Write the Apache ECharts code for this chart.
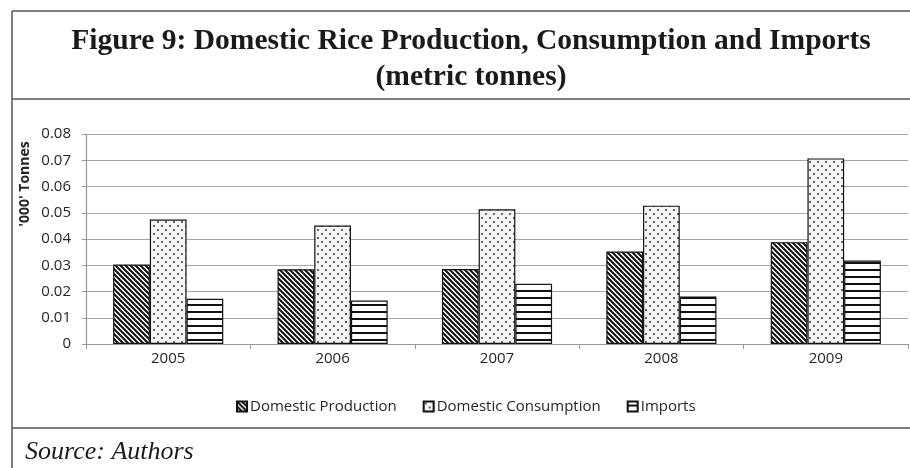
<!DOCTYPE html>
<html><head><meta charset="utf-8">
<script src="https://cdn.jsdelivr.net/npm/echarts@6/dist/echarts.min.js"></script>
<style>html,body{margin:0;padding:0;background:#fff}#c{width:910px;height:468px}</style>
</head><body><div id="c"></div>
<script>
const categories = ['2005','2006','2007','2008','2009'];
const production = [0.0303, 0.0285, 0.0286, 0.0352, 0.0388];
const consumption = [0.0474, 0.0451, 0.0513, 0.0527, 0.0707];
const imports = [0.0172, 0.0166, 0.0230, 0.0181, 0.0318];
const yTicks = [0, 0.01, 0.02, 0.03, 0.04, 0.05, 0.06, 0.07, 0.08];
const titleLine1 = 'Figure 9: Domestic Rice Production, Consumption and Imports';
const titleLine2 = '(metric tonnes)';
const sourceText = 'Source: Authors';

function fitSize(text, weight, family, target){
  const c = document.createElement('canvas').getContext('2d');
  c.font = weight + ' 100px ' + family;
  return 100 * target / c.measureText(text).width;
}
const titleSize = Math.min(30, fitSize(titleLine1, 'bold', '"Liberation Serif"', 800));
const sourceSize = Math.min(26, fitSize(sourceText, 'italic', '"Liberation Serif"', 170));

function pat(kind){
  const c = document.createElement('canvas');
  const x = c.getContext('2d');
  if(kind==='diag'){
    const s=5; c.width=s; c.height=s;
    x.fillStyle='#fff'; x.fillRect(0,0,s,s);
    x.strokeStyle='#111'; x.lineWidth=2.0;
    x.beginPath();
    for(let k=-1;k<=1;k++){ x.moveTo(k*s-1,-1); x.lineTo(k*s+s+1,s+1); }
    x.stroke();
  } else if(kind==='dots'){
    const s=8; c.width=s; c.height=s;
    x.fillStyle='#f6f6f6'; x.fillRect(0,0,s,s);
    x.fillStyle='#222';
    x.beginPath(); x.arc(2,2,0.9,0,Math.PI*2); x.fill();
    x.beginPath(); x.arc(6,6,0.9,0,Math.PI*2); x.fill();
  } else {
    c.width=6; c.height=7;
    x.fillStyle='#fff'; x.fillRect(0,0,6,7);
    x.fillStyle='#111'; x.fillRect(0,3,6,2);
  }
  return {image:c, repeat:'repeat'};
}

const chart = echarts.init(document.getElementById('c'), null, {renderer:'canvas'});
const txt = '#262626';
const font = 'Open Sans';
function series(name, data, kind){
  return {name, type:'bar', data, barGap:'0%', barCategoryGap:'33%',
    itemStyle:{color:pat(kind), borderColor:'#111', borderWidth:1.2}};
}
chart.setOption({
  backgroundColor:'#fff',
  animation:false,
  title:{
    text:titleLine1 + '\n' + titleLine2,
    left:466, top:18, textAlign:'center',
    textStyle:{fontFamily:'Liberation Serif', fontWeight:'bold', fontSize:titleSize, lineHeight:36, color:'#1a1a1a'}
  },
  legend:{
    bottom:49, left:231, icon:'rect',
    itemWidth:10, itemHeight:10, itemGap:26,
    textStyle:{fontFamily:font, fontSize:15, color:txt, padding:[0,0,0,-2]},
    data:['Domestic Production','Domestic Consumption','Imports']
  },
  grid:{left:86, right:2, top:134, bottom:124},
  xAxis:{
    type:'category', data:categories,
    axisLine:{lineStyle:{color:'#999', width:1.2}},
    axisTick:{show:true, interval:0, length:5, lineStyle:{color:'#999'}},
    axisLabel:{fontFamily:font, fontSize:15, color:txt, margin:7}
  },
  yAxis:{
    type:'value', min:0, max:0.08, interval:0.01,
    axisLine:{show:true, lineStyle:{color:'#999', width:1.2}},
    axisTick:{show:true, length:4, lineStyle:{color:'#999'}},
    splitLine:{lineStyle:{color:'#a6a6a6', width:1.2}},
    axisLabel:{fontFamily:font, fontSize:15, color:txt, margin:15,
      formatter:v=>{ const t = yTicks.find(k=>Math.abs(k-v)<1e-9); return t===0?'0':(t!==undefined?t.toFixed(2):v.toFixed(2)); }}
  },
  series:[
    series('Domestic Production', production, 'diag'),
    series('Domestic Consumption', consumption, 'dots'),
    series('Imports', imports, 'hlines')
  ],
  graphic:[
    {type:'text', x:25, y:184, rotation:Math.PI/2, style:{text:"'000' Tonnes", font:'bold 14px "Open Sans"', fill:txt, textAlign:'center', textVerticalAlign:'middle'}},
    {type:'line', shape:{x1:12, y1:11, x2:910, y2:11}, style:{stroke:'#555', lineWidth:1.5}},
    {type:'line', shape:{x1:12, y1:11, x2:12, y2:468}, style:{stroke:'#555', lineWidth:1.5}},
    {type:'line', shape:{x1:12, y1:99, x2:910, y2:99}, style:{stroke:'#555', lineWidth:1.5}},
    {type:'line', shape:{x1:12, y1:428, x2:910, y2:428}, style:{stroke:'#555', lineWidth:1.5}},
    {type:'text', x:25, y:452, style:{text:sourceText, font:'italic ' + sourceSize.toFixed(1) + 'px "Liberation Serif"', fill:'#1a1a1a', textVerticalAlign:'middle'}}
  ]
});
</script></body></html>
